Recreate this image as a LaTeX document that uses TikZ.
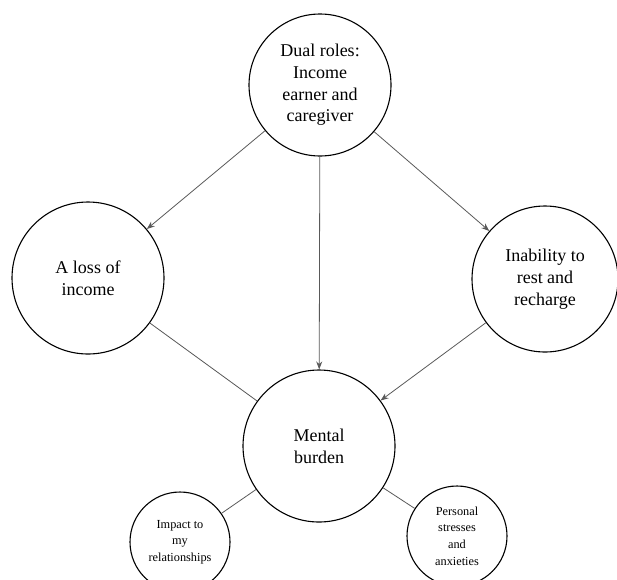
\documentclass[tikz,border=0pt]{standalone}
\usepackage{fontspec}
\setmainfont{Liberation Serif}
\usetikzlibrary{arrows.meta}
\begin{document}
\begin{tikzpicture}[x=1pt,y=-1pt,
  bubble/.style={draw,circle,line width=1.1pt,inner sep=0pt,align=center,font=\fontsize{18}{21.7}\selectfont},
  small/.style={bubble,font=\fontsize{12.3}{16.6}\selectfont},
  link/.style={draw=black!65,line width=0.8pt},
  arr/.style={link,-{Stealth[length=8pt,width=6pt]}}]
\useasboundingbox (0,0) rectangle (617,579);
\node[bubble,minimum size=142pt](dual) at (320,85){Dual roles:\\Income\\earner and\\caregiver};
\node[bubble,minimum size=152pt](loss) at (88,278){A loss of\\income};
\node[bubble,minimum size=146pt](rest) at (545,279){Inability to\\rest and\\recharge};
\node[bubble,minimum size=152pt](burden) at (319,446){Mental\\burden};
\node[small,minimum size=100pt](impact) at (180,542){Impact to\\my\\relationships};
\node[small,minimum size=100pt](stress) at (457,536){Personal\\stresses\\and\\anxieties};
\draw[arr](dual) -- (loss);
\draw[arr](dual) -- (burden);
\draw[arr](dual) -- (rest);
\draw[link](loss) -- (burden);
\draw[arr](rest) -- (burden);
\draw[link](burden) -- (impact);
\draw[link](burden) -- (stress);
\end{tikzpicture}
\end{document}
